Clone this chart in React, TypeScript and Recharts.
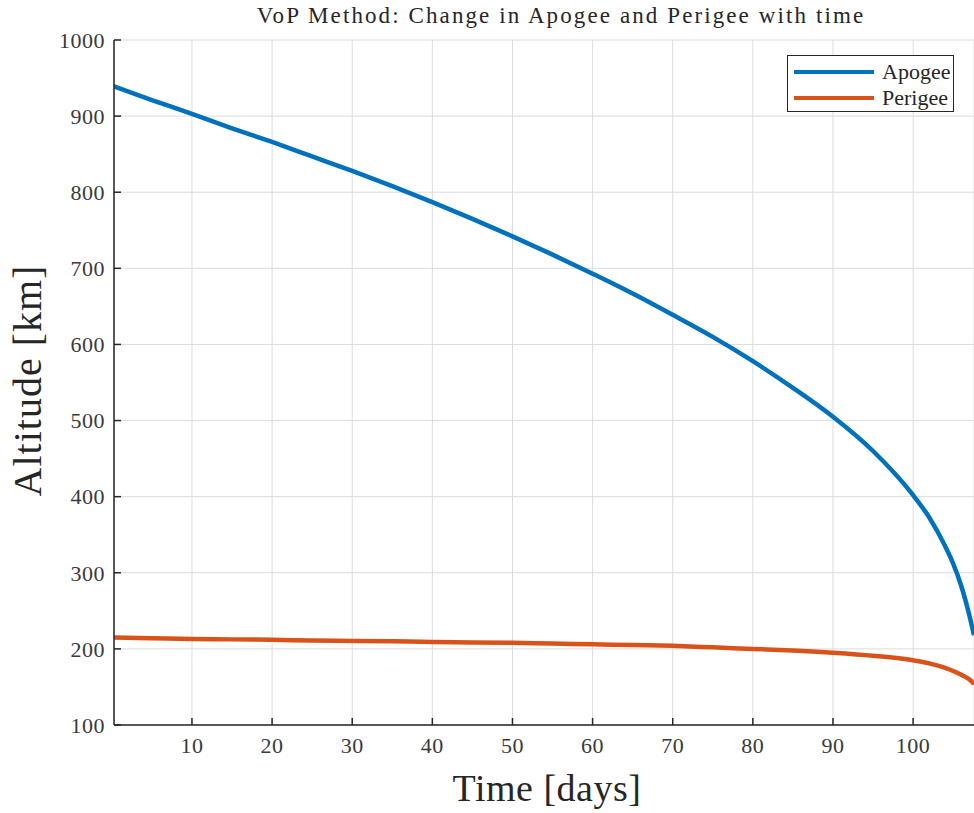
import React from 'react';
import {
  LineChart,
  Line,
  XAxis,
  YAxis,
  CartesianGrid,
  Legend,
  Label,
} from 'recharts';

// values
const timeDays = [0, 5, 10, 15, 20, 25, 30, 35, 40, 45, 50, 55, 60, 65, 70, 75, 80, 85, 90, 95, 100, 102, 104, 105, 106, 107, 107.6];
const apogeeKm = [940, 921, 903, 884, 866, 847, 828, 808, 787, 765, 742, 718, 693, 667, 639, 610, 578, 543, 505, 460, 402, 373, 335, 312, 283, 245, 218];
const perigeeKm = [215, 214, 213, 212.5, 212, 211, 210.5, 210, 209, 208.5, 208, 207, 206, 205, 204, 202, 200, 198, 195, 191, 185, 181, 175, 171, 166, 160, 154];

const xTicks = [10, 20, 30, 40, 50, 60, 70, 80, 90, 100];
const yTicks = [100, 200, 300, 400, 500, 600, 700, 800, 900, 1000];

const FONT = '"Liberation Serif", "Times New Roman", serif';
const AXIS = '#262626';
const BLUE = '#0072BD';
const ORANGE = '#D95319';

const chartData = timeDays.map((t, i) => ({
  t,
  Apogee: apogeeKm[i],
  Perigee: perigeeKm[i],
}));

const tickStyle = { fontFamily: FONT, fontSize: 22, fill: '#3a3a3a', letterSpacing: 0.5 };

function LegendBox({ payload }: { payload?: Array<{ value: string; color: string }> }) {
  return (
    <div
      style={{
        width: 167,
        height: 57,
        boxSizing: 'border-box',
        border: `1.5px solid ${AXIS}`,
        background: '#fff',
        padding: '3px 0 0 6px',
      }}
    >
      {(payload || []).map((item) => (
        <div key={item.value} style={{ display: 'flex', alignItems: 'center', height: 26 }}>
          <div style={{ width: 80, height: 4, background: item.color, marginRight: 8 }} />
          <span style={{ fontFamily: FONT, fontSize: 22, color: AXIS }}>{item.value}</span>
        </div>
      ))}
    </div>
  );
}

export default function App() {
  return (
    <div style={{ position: 'absolute', left: 0, top: 0, width: 974, height: 813, background: '#fff' }}>
      <div
        style={{
          position: 'absolute',
          left: 0,
          top: 1,
          width: 1122,
          textAlign: 'center',
          fontFamily: FONT,
          fontSize: 23,
          letterSpacing: 2.1,
          color: AXIS,
          lineHeight: '30px',
          whiteSpace: 'nowrap',
        }}
      >
        VoP Method: Change in Apogee and Perigee with time
      </div>
      <LineChart width={974} height={813} data={chartData} margin={{ top: 40, right: 0, bottom: 0, left: 0 }}>
        <CartesianGrid stroke="#dcdcdc" strokeWidth={1} />
        <XAxis
          dataKey="t"
          type="number"
          domain={[0.27, 107.6]}
          allowDataOverflow
          ticks={xTicks}
          height={88}
          tick={tickStyle}
          tickSize={-7}
          tickMargin={19}
          axisLine={{ stroke: AXIS, strokeWidth: 1.5 }}
          tickLine={{ stroke: AXIS, strokeWidth: 1.5 }}
        >
          <Label
            content={({ viewBox }: any) => (
              <text
                x={viewBox.x + viewBox.width / 2 + 3}
                y={viewBox.y + 76}
                textAnchor="middle"
                fontFamily={FONT}
                fontSize={38}
                letterSpacing={0.5}
                fill={AXIS}
              >
                Time [days]
              </text>
            )}
          />
        </XAxis>
        <XAxis
          xAxisId="top"
          orientation="top"
          dataKey="t"
          type="number"
          domain={[0.27, 107.6]}
          allowDataOverflow
          ticks={xTicks}
          height={0}
          tick={false}
          tickSize={-7}
          axisLine={{ stroke: AXIS, strokeWidth: 1.5 }}
          tickLine={{ stroke: AXIS, strokeWidth: 1.5 }}
        />
        <YAxis
          type="number"
          domain={[100, 1000]}
          ticks={yTicks}
          width={114}
          tick={tickStyle}
          tickSize={-7}
          tickMargin={16}
          axisLine={{ stroke: AXIS, strokeWidth: 1.5 }}
          tickLine={{ stroke: AXIS, strokeWidth: 1.5 }}
        >
          <Label
            content={({ viewBox }: any) => {
              const cx = 41;
              const cy = viewBox.y + viewBox.height / 2 - 2;
              return (
                <text
                  x={cx}
                  y={cy}
                  transform={`rotate(-90 ${cx} ${cy})`}
                  textAnchor="middle"
                  fontFamily={FONT}
                  fontSize={40}
                  letterSpacing={1}
                  fill={AXIS}
                >
                  Altitude [km]
                </text>
              );
            }}
          />
        </YAxis>
        <Legend
          layout="horizontal"
          align="center"
          verticalAlign="middle"
          wrapperStyle={{ position: 'absolute', left: 787, top: 55, width: 'auto' }}
          content={(props: any) => <LegendBox payload={props.payload} />}
        />
        <Line
          type="monotone"
          dataKey="Apogee"
          stroke={BLUE}
          strokeWidth={4.5}
          dot={false}
          isAnimationActive={false}
        />
        <Line
          type="monotone"
          dataKey="Perigee"
          stroke={ORANGE}
          strokeWidth={4.5}
          dot={false}
          isAnimationActive={false}
        />
      </LineChart>
    </div>
  );
}
